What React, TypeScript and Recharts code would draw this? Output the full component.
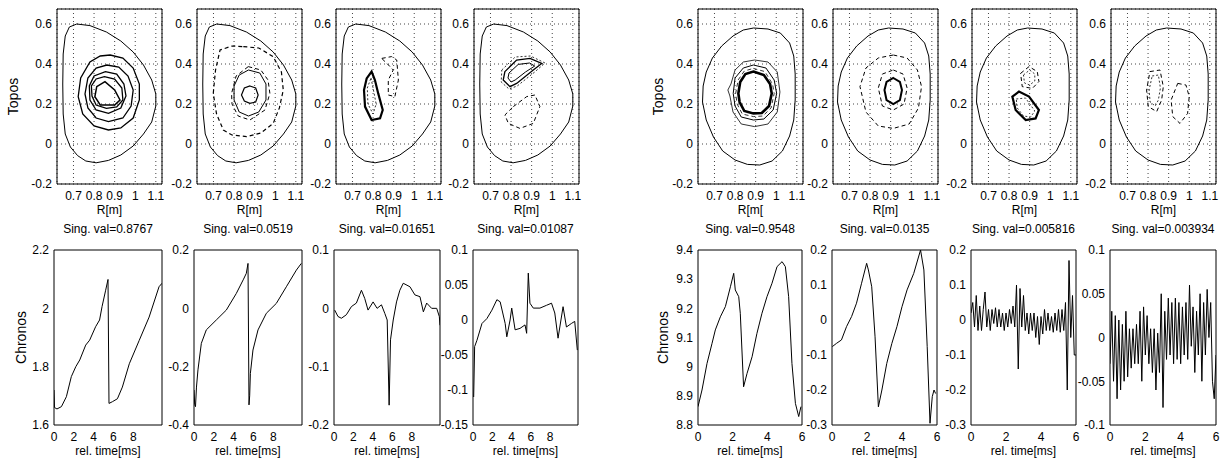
import React from "react";
import { LineChart, Line, XAxis, YAxis, CartesianGrid, ReferenceArea } from "recharts";

type Pt = [number, number];

// ---- topos: flux-surface contours (R [m], Z) ----
const boundaryLeft: Pt[] = [
  [0.716, 0.6], [0.78, 0.592], [0.86, 0.56], [0.93, 0.515], [0.99, 0.46], [1.04, 0.395],
  [1.08, 0.32], [1.1, 0.25], [1.1, 0.19], [1.08, 0.11], [1.04, 0.05], [0.99, -0.01],
  [0.93, -0.055], [0.87, -0.082], [0.81, -0.094], [0.76, -0.085], [0.72, -0.058], [0.685, -0.015],
  [0.66, 0.05], [0.65, 0.15], [0.648, 0.3], [0.65, 0.45], [0.66, 0.54], [0.68, 0.585],
];
const boundaryRight: Pt[] = [
  [0.89, 0.58], [0.96, 0.575], [1.02, 0.555], [1.065, 0.505], [1.085, 0.44], [1.092, 0.35],
  [1.092, 0.22], [1.085, 0.12], [1.065, 0.04], [1.03, -0.035], [0.98, -0.085], [0.92, -0.105],
  [0.86, -0.102], [0.8, -0.08], [0.74, -0.035], [0.695, 0.035], [0.66, 0.12], [0.642, 0.21],
  [0.645, 0.29], [0.66, 0.36], [0.69, 0.43], [0.735, 0.49], [0.79, 0.54], [0.84, 0.57],
];

const l1a: Pt[] = [[0.878, 0.445], [0.94, 0.43], [0.99, 0.38], [1.02, 0.3], [1.02, 0.22], [0.99, 0.13], [0.93, 0.08], [0.87, 0.07], [0.8, 0.09], [0.745, 0.15], [0.723, 0.237], [0.735, 0.33], [0.78, 0.41], [0.83, 0.44]];
const l1b: Pt[] = [[0.862, 0.395], [0.92, 0.385], [0.965, 0.34], [0.99, 0.27], [0.98, 0.19], [0.94, 0.13], [0.87, 0.112], [0.81, 0.13], [0.77, 0.18], [0.756, 0.25], [0.77, 0.33], [0.81, 0.38]];
const l1c: Pt[] = [[0.855, 0.362], [0.91, 0.35], [0.945, 0.3], [0.955, 0.24], [0.93, 0.18], [0.87, 0.153], [0.81, 0.17], [0.78, 0.22], [0.777, 0.29], [0.8, 0.34]];
const l1d: Pt[] = [[0.85, 0.337], [0.9, 0.325], [0.935, 0.28], [0.94, 0.22], [0.91, 0.185], [0.86, 0.178], [0.81, 0.195], [0.79, 0.24], [0.787, 0.29], [0.81, 0.325]];
const l1e: Pt[] = [[0.813, 0.287], [0.853, 0.312], [0.9, 0.27], [0.926, 0.22], [0.9, 0.195], [0.83, 0.195], [0.804, 0.237]];

const l2dashOuter: Pt[] = [[0.845, 0.487], [0.92, 0.48], [0.99, 0.437], [1.03, 0.36], [1.039, 0.27], [1.02, 0.18], [0.99, 0.103], [0.93, 0.055], [0.861, 0.037], [0.79, 0.045], [0.748, 0.07], [0.715, 0.15], [0.699, 0.253], [0.71, 0.37], [0.732, 0.47], [0.79, 0.49]];
const l2dashInner: Pt[] = [[0.869, 0.387], [0.93, 0.37], [0.965, 0.32], [0.974, 0.253], [0.95, 0.17], [0.877, 0.12], [0.82, 0.14], [0.79, 0.2], [0.788, 0.253], [0.81, 0.34]];
const l2ring: Pt[] = [[0.87, 0.37], [0.925, 0.355], [0.955, 0.3], [0.955, 0.22], [0.92, 0.16], [0.87, 0.14], [0.825, 0.16], [0.8, 0.22], [0.8, 0.29], [0.825, 0.345]];
const l2core: Pt[] = [[0.877, 0.29], [0.905, 0.28], [0.917, 0.245], [0.905, 0.21], [0.877, 0.203], [0.85, 0.215], [0.836, 0.245], [0.85, 0.28]];

const l3blob: Pt[] = [[0.793, 0.362], [0.809, 0.32], [0.825, 0.253], [0.847, 0.17], [0.834, 0.128], [0.793, 0.12], [0.761, 0.187], [0.756, 0.27], [0.769, 0.328]];
const l3blobIn: Pt[] = [[0.79, 0.33], [0.8, 0.28], [0.815, 0.2], [0.8, 0.15], [0.775, 0.2], [0.772, 0.28]];
const l3upper: Pt[] = [[0.842, 0.428], [0.89, 0.437], [0.915, 0.42], [0.923, 0.32], [0.906, 0.237], [0.874, 0.245], [0.874, 0.32], [0.898, 0.37], [0.87, 0.4]];

const l4wedge: Pt[] = [[0.77, 0.362], [0.827, 0.42], [0.892, 0.428], [0.949, 0.403], [0.908, 0.37], [0.827, 0.303], [0.795, 0.287], [0.762, 0.32]];
const l4wedgeIn: Pt[] = [[0.79, 0.355], [0.835, 0.398], [0.89, 0.405], [0.915, 0.39], [0.87, 0.36], [0.82, 0.32], [0.8, 0.31], [0.785, 0.33]];
const l4wedgeOut: Pt[] = [[0.755, 0.37], [0.82, 0.435], [0.895, 0.44], [0.965, 0.405], [0.915, 0.36], [0.83, 0.29], [0.79, 0.275], [0.752, 0.31]];
const l4lower: Pt[] = [[0.811, 0.187], [0.876, 0.237], [0.916, 0.245], [0.94, 0.187], [0.908, 0.103], [0.843, 0.078], [0.787, 0.103], [0.77, 0.145]];

const r1core: Pt[] = [[0.889, 0.362], [0.94, 0.345], [0.97, 0.3], [0.978, 0.253], [0.965, 0.19], [0.93, 0.155], [0.889, 0.153], [0.845, 0.165], [0.822, 0.21], [0.816, 0.253], [0.825, 0.31], [0.85, 0.35]];
const r1dash: Pt[] = [[0.889, 0.378], [0.945, 0.362], [0.982, 0.3], [0.99, 0.253], [0.975, 0.18], [0.935, 0.14], [0.889, 0.137], [0.835, 0.15], [0.81, 0.2], [0.803, 0.253], [0.815, 0.32], [0.845, 0.365]];
const r1mid: Pt[] = [[0.889, 0.395], [0.95, 0.38], [0.99, 0.32], [1.002, 0.253], [0.985, 0.17], [0.94, 0.125], [0.889, 0.12], [0.83, 0.135], [0.8, 0.19], [0.791, 0.253], [0.8, 0.33], [0.84, 0.38]];
const r1outer: Pt[] = [[0.895, 0.42], [0.96, 0.41], [1.005, 0.36], [1.018, 0.26], [1.005, 0.16], [0.96, 0.1], [0.895, 0.087], [0.83, 0.1], [0.79, 0.16], [0.775, 0.24], [0.765, 0.27], [0.78, 0.3], [0.8, 0.37], [0.84, 0.41]];

const r2dashOuter: Pt[] = [[0.913, 0.445], [0.98, 0.43], [1.03, 0.37], [1.05, 0.287], [1.035, 0.18], [0.99, 0.1], [0.913, 0.078], [0.84, 0.09], [0.78, 0.16], [0.751, 0.287], [0.78, 0.38], [0.84, 0.43]];
const r2dashMid: Pt[] = [[0.913, 0.37], [0.96, 0.35], [0.98, 0.28], [0.965, 0.2], [0.913, 0.17], [0.86, 0.19], [0.84, 0.28], [0.86, 0.35]];
const r2core: Pt[] = [[0.913, 0.33], [0.945, 0.31], [0.955, 0.27], [0.945, 0.22], [0.913, 0.2], [0.88, 0.22], [0.87, 0.27], [0.88, 0.31]];

const r3blob: Pt[] = [[0.816, 0.237], [0.848, 0.262], [0.897, 0.237], [0.945, 0.17], [0.929, 0.128], [0.881, 0.12], [0.832, 0.17]];
const r3blobIn: Pt[] = [[0.835, 0.225], [0.88, 0.23], [0.925, 0.165], [0.905, 0.135], [0.87, 0.14], [0.84, 0.18]];
const r3upper: Pt[] = [[0.856, 0.353], [0.897, 0.387], [0.937, 0.362], [0.945, 0.312], [0.913, 0.278], [0.864, 0.287]];
const r3upperIn: Pt[] = [[0.87, 0.345], [0.9, 0.37], [0.925, 0.35], [0.925, 0.315], [0.9, 0.295], [0.875, 0.305]];

const r4left: Pt[] = [[0.809, 0.362], [0.858, 0.37], [0.874, 0.287], [0.866, 0.22], [0.842, 0.162], [0.801, 0.187], [0.793, 0.27]];
const r4leftIn: Pt[] = [[0.82, 0.34], [0.85, 0.345], [0.86, 0.28], [0.85, 0.22], [0.835, 0.19], [0.81, 0.21], [0.805, 0.27]];
const r4right: Pt[] = [[0.944, 0.303], [0.984, 0.295], [1.0, 0.237], [0.992, 0.153], [0.955, 0.103], [0.92, 0.137], [0.912, 0.22]];

// ---- chronos: time traces (t [ms], amplitude) ----
const chronL1: Pt[] = [[0, 1.72], [0.05, 1.66], [0.3, 1.655], [0.75, 1.663], [1.25, 1.697], [1.75, 1.766], [2.2, 1.8], [2.6, 1.823], [3.2, 1.874], [3.6, 1.891], [4.2, 1.937], [4.6, 1.96], [4.85, 2.006], [5.2, 2.06], [5.45, 2.099], [5.55, 1.674], [5.9, 1.68], [6.4, 1.69], [6.9, 1.73], [7.6, 1.81], [8.6, 1.89], [9.6, 1.97], [10.6, 2.074], [10.9, 2.086]];
const chronL2: Pt[] = [[0, -0.28], [0.07, -0.33], [0.15, -0.337], [0.25, -0.27], [0.4, -0.211], [0.74, -0.12], [1.24, -0.074], [2.25, -0.04], [3.26, -0.006], [4.27, 0.051], [5.0, 0.1], [5.28, 0.12], [5.45, 0.154], [5.55, -0.331], [5.62, -0.3], [5.69, -0.223], [5.95, -0.143], [6.46, -0.074], [7.3, -0.017], [8.31, 0.017], [9.32, 0.074], [10.33, 0.131], [10.83, 0.154]];
const chronL3: Pt[] = [[0.07, -0.003], [0.41, -0.014], [0.76, -0.017], [1.27, -0.011], [1.79, 0.003], [2.3, 0.009], [2.82, 0.031], [3.16, 0.017], [3.5, -0.003], [4.02, 0.011], [4.43, 0], [4.88, 0.006], [5.23, -0.009], [5.47, -0.02], [5.67, -0.166], [5.81, -0.054], [6.09, -0.02], [6.43, 0.011], [6.77, 0.031], [7.12, 0.043], [7.81, 0.037], [8.32, 0.023], [8.84, 0.02], [9.19, -0.006], [9.53, 0.009], [10.04, 0], [10.56, 0], [10.83, -0.014], [10.9, -0.029]];
const chronL4: Pt[] = [[0.07, -0.11], [0.17, -0.038], [0.41, -0.029], [0.93, -0.005], [1.44, 0.002], [1.96, 0.014], [2.48, 0.029], [2.82, 0.026], [3.34, -0.005], [3.51, -0.024], [3.85, 0], [4.02, 0.017], [4.37, -0.014], [4.88, -0.012], [5.4, -0.007], [5.57, -0.019], [5.74, 0.067], [5.91, 0.024], [6.26, 0.017], [6.95, 0.017], [7.63, 0.021], [8.15, 0.024], [8.49, 0.01], [8.83, -0.026], [9.35, 0.019], [9.7, -0.01], [10.21, -0.005], [10.56, -0.002], [10.83, -0.043]];
const chronR1: Pt[] = [[0, 8.863], [0.23, 8.92], [0.52, 9.011], [0.81, 9.08], [1.0, 9.126], [1.29, 9.171], [1.58, 9.206], [1.87, 9.274], [2.06, 9.32], [2.15, 9.263], [2.35, 9.24], [2.44, 9.183], [2.63, 8.931], [2.83, 8.977], [3.12, 9.034], [3.4, 9.114], [3.69, 9.183], [3.98, 9.24], [4.27, 9.286], [4.56, 9.343], [4.85, 9.36], [5.04, 9.343], [5.23, 9.24], [5.42, 9.011], [5.62, 8.874], [5.81, 8.829], [5.94, 8.863]];
const chronR2: Pt[] = [[0.02, -0.076], [0.25, -0.067], [0.54, -0.057], [0.83, -0.019], [1.12, 0.01], [1.4, 0.048], [1.69, 0.105], [1.98, 0.162], [2.08, 0.143], [2.27, 0.095], [2.46, -0.048], [2.65, -0.248], [2.85, -0.2], [3.13, -0.124], [3.42, -0.067], [3.71, -0.019], [4.0, 0.038], [4.29, 0.086], [4.67, 0.133], [5.06, 0.2], [5.25, 0.143], [5.44, -0.076], [5.6, -0.295], [5.73, -0.219], [5.83, -0.2], [5.92, -0.21]];

const tNoise = [0, 0.1, 0.2, 0.3, 0.4, 0.5, 0.6, 0.7, 0.8, 0.9, 1, 1.1, 1.2, 1.3, 1.4, 1.5, 1.6, 1.7, 1.8, 1.9, 2, 2.1, 2.2, 2.3, 2.4, 2.5, 2.6, 2.7, 2.8, 2.9, 3, 3.1, 3.2, 3.3, 3.4, 3.5, 3.6, 3.7, 3.8, 3.9, 4, 4.1, 4.2, 4.3, 4.4, 4.5, 4.6, 4.7, 4.8, 4.9, 5, 5.1, 5.2, 5.3, 5.4, 5.5, 5.6, 5.7, 5.8, 5.9, 6];
const chronR3 = [0.02, 0.05, -0.02, 0.07, -0.03, 0.04, -0.03, 0.03, 0.08, -0.02, 0.03, -0.03, 0.03, -0.01, 0.035, -0.02, 0.03, -0.02, 0.02, -0.03, 0.02, -0.02, 0.03, -0.01, 0.04, -0.02, 0.1, -0.14, 0.09, -0.02, 0.07, -0.03, 0.02, -0.04, 0.02, -0.03, 0.02, -0.05, 0.01, -0.07, 0.01, -0.04, 0.03, -0.03, 0.02, -0.03, 0.01, -0.035, 0.02, -0.03, 0.03, -0.035, 0.03, -0.03, 0.05, -0.2, 0.17, -0.05, 0.07, -0.1, -0.1];
const chronR4 = [-0.03, 0.03, -0.05, 0.025, -0.07, 0.02, -0.06, 0.015, -0.05, 0.03, -0.045, 0.01, -0.035, 0.01, -0.03, 0.015, -0.03, 0.03, -0.05, 0.035, -0.02, 0.025, -0.03, 0.01, -0.04, 0.01, -0.06, 0.005, -0.04, 0.05, -0.08, 0.03, -0.025, 0.045, -0.02, 0.04, -0.03, 0.045, -0.025, 0.04, -0.03, 0.035, -0.02, 0.04, -0.025, 0.06, -0.01, 0.035, -0.04, 0.03, -0.02, 0.05, -0.05, 0.04, -0.02, 0.055, 0, 0.04, -0.05, -0.07, -0.02];

const singVals = ["0.8767", "0.0519", "0.01651", "0.01087", "0.9548", "0.0135", "0.005816", "0.003934"];

const rTicks = [0.7, 0.8, 0.9, 1, 1.1];
const zTicks = [-0.2, 0, 0.2, 0.4, 0.6];
const tTicksLeft = [0, 2, 4, 6, 8];
const tTicksRight = [0, 2, 4, 6];

const FONT = "'Liberation Sans', Arial, Helvetica, sans-serif";
const AX = 62;
const MT = 30;
const MR = 4;
const XH = 36;
const PH = 175;

type Curve = { pts: Pt[]; dash?: string; w?: number; closed?: boolean };

const closed = (pts: Pt[], w = 1, dash?: string): Curve => ({ pts, w, dash, closed: true });

function SideLabel(props: any) {
  const { viewBox, text, dist } = props;
  if (!viewBox) return null;
  const cx = viewBox.x + viewBox.width - dist;
  const cy = viewBox.y + viewBox.height / 2;
  return (
    <text x={cx} y={cy} transform={`rotate(-90 ${cx} ${cy})`} textAnchor="middle" dominantBaseline="central" fontSize={14} fontFamily={FONT} fill="#000">
      {text}
    </text>
  );
}

type PanelProps = {
  left: number;
  top: number;
  width: number;
  curves: Curve[];
  xDomain: [number, number];
  xTicks: number[];
  yDomain: [number, number];
  yTicks: number[];
  grid?: boolean;
  xLabel: string;
  yLabel?: string;
  yLabelDist?: number;
  title?: string;
};

function Panel(p: PanelProps) {
  const tick = { fontSize: 12, fill: "#000", fontFamily: FONT };
  return (
    <div style={{ position: "absolute", left: p.left - AX, top: p.top - MT }}>
      <LineChart width={AX + p.width + MR} height={MT + PH + XH} margin={{ top: MT, right: MR, bottom: 0, left: 0 }}>
        {p.grid && <CartesianGrid stroke="#444" strokeDasharray="1 3" />}
        <XAxis
          type="number"
          dataKey="x"
          domain={p.xDomain}
          ticks={p.xTicks}
          interval={0}
          allowDataOverflow
          height={XH}
          axisLine={false}
          tickLine={false}
          tickSize={3}
          tickMargin={4}
          tick={tick}
          label={{ value: p.xLabel, position: "insideBottom", offset: 6, fontSize: 12, fill: "#000", fontFamily: FONT }}
        />
        <YAxis
          type="number"
          domain={p.yDomain}
          ticks={p.yTicks}
          interval={0}
          allowDataOverflow
          width={AX}
          axisLine={false}
          tickLine={false}
          tickSize={2}
          tickMargin={3}
          tick={tick}
          label={p.yLabel ? <SideLabel text={p.yLabel} dist={p.yLabelDist ?? 40} /> : undefined}
        />
        <ReferenceArea
          x1={p.xDomain[0]}
          x2={p.xDomain[1]}
          y1={p.yDomain[0]}
          y2={p.yDomain[1]}
          fill="none"
          stroke="#000"
          strokeWidth={1}
          label={p.title ? { value: p.title, position: "top", offset: 17, fontSize: 12, fill: "#000", fontFamily: FONT } : undefined}
        />
        {p.curves.map((c, i) => (
          <Line
            key={i}
            data={c.pts.map(([x, y]) => ({ x, y }))}
            dataKey="y"
            type={c.closed ? "linearClosed" : "linear"}
            stroke="#000"
            strokeWidth={c.w ?? 1}
            strokeDasharray={c.dash}
            dot={false}
            activeDot={false}
            isAnimationActive={false}
          />
        ))}
      </LineChart>
    </div>
  );
}

const DASH = "4 3";
const topoDomainX: [number, number] = [0.62, 1.13];
const topoDomainY: [number, number] = [-0.2, 0.675];

const topos: { left: number; curves: Curve[]; label?: string; dist?: number; xLabel: string }[] = [
  { left: 57, label: "Topos", dist: 44, xLabel: "R[m]", curves: [closed(boundaryLeft), closed(l1a, 1.3), closed(l1b, 1.3), closed(l1c, 1.3), closed(l1d, 1.3), closed(l1e, 1.5)] },
  { left: 197, xLabel: "R[m]", curves: [closed(boundaryLeft), closed(l2dashOuter, 1.2, DASH), closed(l2dashInner, 1, DASH), closed(l2ring, 1), closed(l2core, 1.2)] },
  { left: 336, xLabel: "R[m]", curves: [closed(boundaryLeft), closed(l3blob, 2.2), closed(l3blobIn, 0.8, "2 2"), closed(l3upper, 1, DASH)] },
  { left: 474, xLabel: "R[m]", curves: [closed(boundaryLeft), closed(l4wedge, 1.3), closed(l4wedgeIn, 1), closed(l4wedgeOut, 0.8, "2 2"), closed(l4lower, 1, DASH)] },
  { left: 698, label: "Topos", dist: 40, xLabel: "R[m[", curves: [closed(boundaryRight), closed(r1core, 2.6), closed(r1dash, 0.8, DASH), closed(r1mid, 1), closed(r1outer, 0.8)] },
  { left: 833, xLabel: "R[m]", curves: [closed(boundaryRight), closed(r2dashOuter, 1, DASH), closed(r2dashMid, 1, DASH), closed(r2core, 2)] },
  { left: 972, xLabel: "R[m]", curves: [closed(boundaryRight), closed(r3blob, 2.2), closed(r3blobIn, 0.8, "2 2"), closed(r3upper, 1, DASH), closed(r3upperIn, 0.8, "2 2")] },
  { left: 1111, xLabel: "R[m]", curves: [closed(boundaryRight), closed(r4left, 1, DASH), closed(r4leftIn, 0.8, "2 2"), closed(r4right, 1, DASH)] },
];

const noisy = (vals: number[]): Pt[] => vals.map((v, i) => [tNoise[i], v]);

const chronos: { left: number; width: number; pts: Pt[]; yDomain: [number, number]; yTicks: number[]; right: boolean; label?: string; dist?: number }[] = [
  { left: 54, width: 108, pts: chronL1, yDomain: [1.6, 2.2], yTicks: [1.6, 1.8, 2, 2.2], right: false, label: "Chronos", dist: 33 },
  { left: 194, width: 108, pts: chronL2, yDomain: [-0.4, 0.2], yTicks: [-0.4, -0.2, 0, 0.2], right: false },
  { left: 334, width: 106, pts: chronL3, yDomain: [-0.2, 0.1], yTicks: [-0.2, -0.1, 0, 0.1], right: false },
  { left: 473, width: 105, pts: chronL4, yDomain: [-0.15, 0.1], yTicks: [-0.15, -0.1, -0.05, 0, 0.05, 0.1], right: false },
  { left: 698, width: 104, pts: chronR1, yDomain: [8.8, 9.4], yTicks: [8.8, 8.9, 9, 9.1, 9.2, 9.3, 9.4], right: true, label: "Chronos", dist: 35 },
  { left: 832, width: 105, pts: chronR2, yDomain: [-0.3, 0.2], yTicks: [-0.3, -0.2, -0.1, 0, 0.1, 0.2], right: true },
  { left: 971, width: 105, pts: noisy(chronR3), yDomain: [-0.3, 0.2], yTicks: [-0.3, -0.2, -0.1, 0, 0.1, 0.2], right: true },
  { left: 1110, width: 106, pts: noisy(chronR4), yDomain: [-0.1, 0.1], yTicks: [-0.1, -0.05, 0, 0.05, 0.1], right: true },
];

export default function App() {
  return (
    <div style={{ position: "fixed", left: 0, top: 0, width: 1230, height: 463, background: "#fff", overflow: "hidden", fontFamily: FONT }}>
      {topos.map((t, i) => (
        <Panel
          key={`t${i}`}
          left={t.left}
          top={9}
          width={105}
          curves={t.curves}
          xDomain={topoDomainX}
          xTicks={rTicks}
          yDomain={topoDomainY}
          yTicks={zTicks}
          grid
          xLabel={t.xLabel}
          yLabel={t.label}
          yLabelDist={t.dist}
        />
      ))}
      {chronos.map((c, i) => (
        <Panel
          key={`c${i}`}
          left={c.left}
          top={250}
          width={c.width}
          curves={[{ pts: c.pts, w: 1 }]}
          xDomain={c.right ? [0, 6] : [0, 10.9]}
          xTicks={c.right ? tTicksRight : tTicksLeft}
          yDomain={c.yDomain}
          yTicks={c.yTicks}
          xLabel="rel. time[ms]"
          yLabel={c.label}
          yLabelDist={c.dist}
          title={`Sing. val=${singVals[i]}`}
        />
      ))}
    </div>
  );
}
